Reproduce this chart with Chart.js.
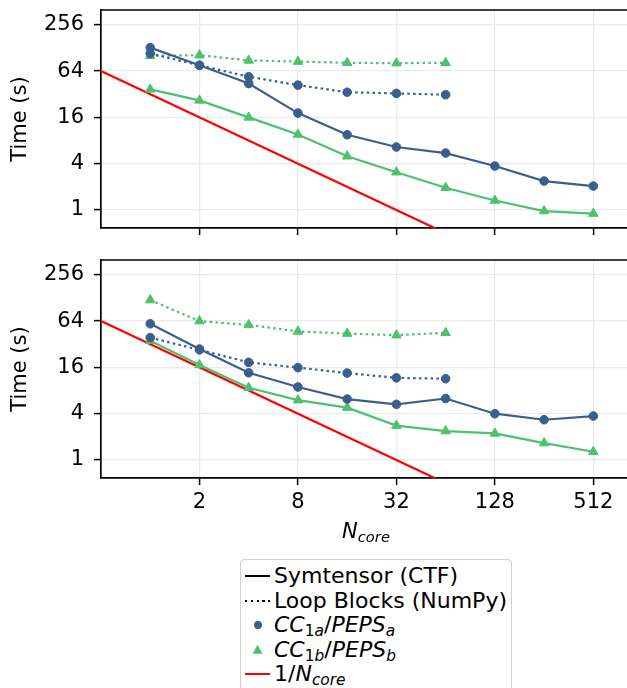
<!DOCTYPE html>
<html>
<head>
<meta charset="utf-8">
<script src="https://cdn.jsdelivr.net/npm/chart.js@4"></script>
<style>
  body { margin: 0; width: 627px; height: 688px; overflow: hidden; background: #fff; position: relative; font-family: "DejaVu Sans", sans-serif; color: #000; }
  canvas { position: absolute; left: 0; }
  #topChart { top: 0; }
  #botChart { top: 250px; }
  #xlabel { position: absolute; left: 101px; width: 530px; top: 519px; text-align: center; font-size: 21px; line-height: 25px; }
  sub { font-size: 70%; vertical-align: -0.28em; line-height: 0; }
  #legend { position: absolute; left: 240px; top: 559px; width: 272px; height: 150px; border: 1.5px solid #d0d0d0; border-radius: 4px; padding-top: 4px; box-sizing: border-box; font-size: 22px; }
  .row { height: 24.5px; line-height: 24.5px; white-space: nowrap; display: flex; align-items: center; }
  .h { width: 25px; height: 10px; margin-left: 4px; margin-right: 4px; position: relative; flex: none; }
  .h::after { content: ""; position: absolute; }
  .solid::after { left: 0; right: 0; top: 4px; height: 2.2px; background: #000; }
  .dots::after { left: 0; right: 0; top: 4px; height: 2.2px; background: repeating-linear-gradient(90deg, #000 0 2.5px, transparent 2.5px 5.8px); }
  .circ::after { left: 8.5px; top: 1px; width: 8px; height: 8px; border-radius: 50%; background: #3a5f8e; }
  .tri::after { left: 7.5px; top: 0; width: 10px; height: 9px; background: #4cc270; clip-path: polygon(50% 0, 100% 100%, 0 100%); }
  .red::after { left: 0; right: 0; top: 4px; height: 2.2px; background: #ff0000; }
</style>
</head>
<body>
<canvas id="topChart" width="640" height="240"></canvas>
<canvas id="botChart" width="640" height="270"></canvas>
<div id="xlabel"><i>N</i><sub><i>core</i></sub></div>
<div id="legend">
  <div class="row"><span class="h solid"></span><span>Symtensor (CTF)</span></div>
  <div class="row"><span class="h dots"></span><span>Loop Blocks (NumPy)</span></div>
  <div class="row"><span class="h circ"></span><span><i>CC</i><sub>1<i>a</i></sub>/<i>PEPS</i><sub><i>a</i></sub></span></div>
  <div class="row"><span class="h tri"></span><span><i>CC</i><sub>1<i>b</i></sub>/<i>PEPS</i><sub><i>b</i></sub></span></div>
  <div class="row"><span class="h red"></span><span>1/<i>N</i><sub><i>core</i></sub></span></div>
</div>
<script>
const cores = [1, 2, 4, 8, 16, 32, 64, 128, 256, 512];
const coresLoop = [1, 2, 4, 8, 16, 32, 64];
const xTicks = [2, 8, 32, 128, 512];
const yTicks = [1, 4, 16, 64, 256];

// top panel
const symA_top = [129, 76, 44, 18.2, 9.5, 6.6, 5.5, 3.73, 2.38, 2.05];
const loopA_top = [108, 76, 54, 42, 34, 32.8, 31.5];
const symB_top = [37, 26.6, 16, 9.6, 5.0, 3.1, 1.95, 1.33, 0.97, 0.9];
const loopB_top = [101, 103, 88, 85, 82, 81, 82];

// bottom panel
const symA_bot = [59, 27.7, 13.6, 8.9, 6.2, 5.3, 6.3, 4.0, 3.34, 3.73];
const loopA_bot = [39, 27, 18.6, 15.9, 13.5, 11.7, 11.4];
const symB_bot = [35.5, 17.2, 8.7, 6.0, 4.8, 2.8, 2.38, 2.22, 1.66, 1.28];
const loopB_bot = [120, 64, 57, 47, 44, 42, 45];

// 1/N reference line
const refX = [0.5, 64];
const refY = [64, 0.5];

const BLUE = "#3a5f8e";
const GREEN = "#4cc270";
const RED = "#ff0000";

Chart.defaults.font.family = "'DejaVu Sans', sans-serif";
Chart.defaults.color = "#000";

const pts = (xs, ys) => ys.map((y, i) => ({ x: xs[i], y: y }));

function series(data, color, dotted, marker) {
  return {
    data: data,
    borderColor: color,
    backgroundColor: color,
    pointBackgroundColor: color,
    pointBorderColor: color,
    borderWidth: 2.2,
    borderDash: dotted ? [2.5, 3.3] : [],
    pointStyle: marker,
    pointRadius: marker === "triangle" ? 5.5 : 4.3,
    pointBorderWidth: 1,
    tension: 0
  };
}

const frame = {
  id: "frame",
  afterDraw(chart) {
    const a = chart.chartArea, ctx = chart.ctx;
    ctx.save();
    ctx.strokeStyle = "#000";
    ctx.lineWidth = 1.7;
    ctx.beginPath();
    ctx.moveTo(a.left, a.top);
    ctx.lineTo(a.right, a.top);
    ctx.lineTo(a.right, a.bottom);
    ctx.stroke();
    ctx.restore();
  }
};

function noPad(s) {
  s.paddingTop = 0;
  s.paddingBottom = 0;
  s.paddingLeft = 0;
  s.paddingRight = 0;
}

function makeChart(id, sa, la, sb, lb, axisH, showX) {
  return new Chart(document.getElementById(id), {
    type: "line",
    data: {
      datasets: [
        series(pts(cores, sa), BLUE, false, "circle"),
        series(pts(coresLoop, la), BLUE, true, "circle"),
        series(pts(cores, sb), GREEN, false, "triangle"),
        series(pts(coresLoop, lb), GREEN, true, "triangle"),
        { data: pts(refX, refY), borderColor: RED, borderWidth: 2.2, pointRadius: 0, clip: 0 }
      ]
    },
    options: {
      responsive: false,
      animation: false,
      events: [],
      layout: { padding: { top: 10, right: 9, left: 0, bottom: 0 } },
      plugins: { legend: { display: false }, tooltip: { enabled: false } },
      scales: {
        x: {
          type: "logarithmic",
          min: 0.5,
          max: 870,
          afterBuildTicks: s => { s.ticks = xTicks.map(v => ({ value: v })); },
          afterFit: s => { s.height = axisH; noPad(s); },
          grid: { color: "#ebebeb", lineWidth: 1.2, tickColor: "#000", tickLength: 7, tickWidth: 1.5 },
          border: { color: "#000", width: 1.7 },
          ticks: {
            display: showX,
            autoSkip: false,
            maxRotation: 0,
            padding: 5,
            font: { size: 21 },
            callback: v => String(v)
          }
        },
        y: {
          type: "logarithmic",
          min: 0.584,
          max: 398,
          afterBuildTicks: s => { s.ticks = yTicks.map(v => ({ value: v })); },
          afterFit: s => { s.width = 101; noPad(s); },
          grid: { color: "#ebebeb", lineWidth: 1.2, tickColor: "#000", tickLength: 7, tickWidth: 1.5 },
          border: { color: "#000", width: 1.7 },
          title: { display: true, text: "Time (s)", font: { size: 21 }, padding: { top: 8, bottom: 0 } },
          ticks: {
            autoSkip: false,
            padding: 10,
            font: { size: 21 },
            callback: v => String(v)
          }
        }
      }
    },
    plugins: [frame]
  });
}

makeChart("topChart", symA_top, loopA_top, symB_top, loopB_top, 12, false);
makeChart("botChart", symA_bot, loopA_bot, symB_bot, loopB_bot, 42, true);
</script>
</body>
</html>
